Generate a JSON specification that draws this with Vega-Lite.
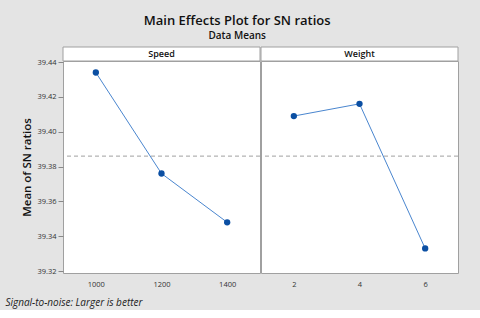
{
  "$schema": "https://vega.github.io/schema/vega-lite/v6.json",
  "background": "#e4e4e4",
  "padding": {"left": 5, "top": 14, "right": 23, "bottom": 2},
  "title": {"text": "Main Effects Plot for SN ratios", "subtitle": "Data Means", "font": "Open Sans", "fontSize": 13, "fontWeight": 600, "color": "#111", "subtitleFont": "Open Sans", "subtitleFontSize": 10, "subtitleFontWeight": 600, "subtitleColor": "#111", "anchor": "middle", "frame": "bounds", "dx": 5, "offset": 6, "subtitlePadding": 3},
  "datasets": {
    "speed": [
      {"level": 1000, "sn": 39.434},
      {"level": 1200, "sn": 39.376},
      {"level": 1400, "sn": 39.348}
    ],
    "weight": [
      {"level": 2, "sn": 39.409},
      {"level": 4, "sn": 39.416},
      {"level": 6, "sn": 39.333}
    ],
    "mean": [{"sn": 39.386}]
  },
  "spacing": -4,
  "hconcat": [
    {
      "spacing": 0,
      "bounds": "flush",
      "title": {"text": "Signal-to-noise: Larger is better", "orient": "bottom", "anchor": "start", "frame": "bounds", "font": "Open Sans", "fontSize": 10, "fontStyle": "italic", "fontWeight": "normal", "color": "#222", "dx": -16, "offset": 10},
      "vconcat": [
        {"width": 197, "height": 14, "data": {"values": [{"factor": "Speed"}]}, "layer": [
          {"mark": {"type": "rect", "fill": "white", "stroke": "#a0a0a0", "strokeWidth": 1}, "encoding": {}},
          {"mark": {"type": "text", "font": "Open Sans", "fontSize": 9, "fontWeight": 600, "color": "#111", "baseline": "middle"}, "encoding": {"text": {"field": "factor"}}}
        ]},
        {
          "width": 197,
          "height": 212,
          "encoding": {"y": {"field": "sn", "type": "quantitative", "scale": {"domain": [39.3189, 39.4406], "nice": false, "zero": false}, "axis": {"title": "Mean of SN ratios", "titleFont": "Open Sans", "titleFontSize": 11.5, "titleFontWeight": 600, "titleColor": "#111", "titlePadding": 4, "values": [39.32, 39.34, 39.36, 39.38, 39.40, 39.42, 39.44], "format": ".2f", "labelFont": "Open Sans", "labelFontSize": 7.5, "labelColor": "#333", "domain": false, "tickColor": "#888", "tickSize": 5, "labelPadding": 2}}},
          "layer": [
            {"data": {"name": "mean"}, "mark": {"type": "rule", "color": "#a0a0a0", "strokeDash": [4, 3], "strokeWidth": 1}},
            {"data": {"name": "speed"}, "mark": {"type": "line", "color": "#4a86cf", "strokeWidth": 1}, "encoding": {"x": {"field": "level", "type": "quantitative", "scale": {"domain": [900, 1500], "nice": false, "zero": false}, "axis": {"title": null, "values": [1000, 1200, 1400], "format": "d", "labelFont": "Open Sans", "labelFontSize": 7.5, "labelColor": "#333", "domain": false, "tickSize": 0, "labelPadding": 7}}}},
            {"data": {"name": "speed"}, "mark": {"type": "point", "filled": true, "color": "#0b4fa3", "opacity": 1, "size": 40}, "encoding": {"x": {"field": "level", "type": "quantitative", "scale": {"domain": [900, 1500], "nice": false, "zero": false}, "axis": {"title": null, "values": [1000, 1200, 1400], "format": "d", "labelFont": "Open Sans", "labelFontSize": 7.5, "labelColor": "#333", "domain": false, "tickSize": 0, "labelPadding": 7}}}}
          ]
        }
      ]
    },
    {
      "spacing": 0,
      "bounds": "flush",
      "vconcat": [
        {"width": 197, "height": 14, "data": {"values": [{"factor": "Weight"}]}, "layer": [
          {"mark": {"type": "rect", "fill": "white", "stroke": "#a0a0a0", "strokeWidth": 1}, "encoding": {}},
          {"mark": {"type": "text", "font": "Open Sans", "fontSize": 9, "fontWeight": 600, "color": "#111", "baseline": "middle"}, "encoding": {"text": {"field": "factor"}}}
        ]},
        {
          "width": 197,
          "height": 212,
          "encoding": {"y": {"field": "sn", "type": "quantitative", "scale": {"domain": [39.3189, 39.4406], "nice": false, "zero": false}, "axis": null}},
          "layer": [
            {"data": {"name": "mean"}, "mark": {"type": "rule", "color": "#a0a0a0", "strokeDash": [4, 3], "strokeWidth": 1}},
            {"data": {"name": "weight"}, "mark": {"type": "line", "color": "#4a86cf", "strokeWidth": 1}, "encoding": {"x": {"field": "level", "type": "quantitative", "scale": {"domain": [1, 7], "nice": false, "zero": false}, "axis": {"title": null, "values": [2, 4, 6], "format": "d", "labelFont": "Open Sans", "labelFontSize": 7.5, "labelColor": "#333", "domain": false, "tickSize": 0, "labelPadding": 7}}}},
            {"data": {"name": "weight"}, "mark": {"type": "point", "filled": true, "color": "#0b4fa3", "opacity": 1, "size": 40}, "encoding": {"x": {"field": "level", "type": "quantitative", "scale": {"domain": [1, 7], "nice": false, "zero": false}, "axis": {"title": null, "values": [2, 4, 6], "format": "d", "labelFont": "Open Sans", "labelFontSize": 7.5, "labelColor": "#333", "domain": false, "tickSize": 0, "labelPadding": 7}}}}
          ]
        }
      ]
    }
  ],
  "config": {
    "view": {"fill": "white", "stroke": "#a0a0a0", "strokeWidth": 1},
    "axis": {"grid": false}
  }
}
